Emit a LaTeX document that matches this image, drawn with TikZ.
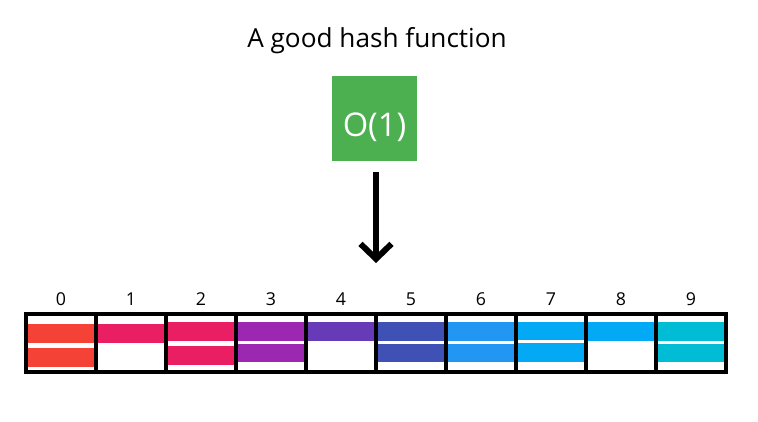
\documentclass[tikz,border=0pt]{standalone}
\usepackage{fontspec}
\setmainfont{Open Sans}
\usepackage{tikz}
\usepackage{xcolor}
\definecolor{hashGreen}{HTML}{4CAF50}
\definecolor{slotRed}{HTML}{F44336}
\definecolor{slotPink}{HTML}{E91E63}
\definecolor{slotPurple}{HTML}{9C27B0}
\definecolor{slotDeep}{HTML}{673AB7}
\definecolor{slotIndigo}{HTML}{3F51B5}
\definecolor{slotBlue}{HTML}{2196F3}
\definecolor{slotLight}{HTML}{03A9F4}
\definecolor{slotCyan}{HTML}{00BCD4}
\usetikzlibrary{arrows.meta}

\begin{document}
\begin{tikzpicture}
  \filldraw[fill=white, draw=none] (0cm,0cm) rectangle (15.16cm,-8.42cm);
  % title and hash box
  \node[anchor=base, font=\fontsize{14.9pt}{18pt}\selectfont] (title) at (7.54cm,-0.95cm) {A good hash function};
  \node[fill=hashGreen, minimum width=1.7cm, minimum height=1.7cm, inner sep=0pt] (hash) at (7.49cm,-2.37cm) {};
  \node[anchor=base, text=white, font=\fontsize{18.6pt}{22pt}\selectfont] (cost) at (7.49cm,-2.72cm) {O(1)};
  \coordinate (tip) at (7.52cm,-5.26cm);
  \draw[line width=3.4pt, -{Straight Barb[length=0.3cm, width=0.62cm, line width=3.4pt]}] (hash.south -| tip) ++(0,-0.22cm) -- (tip);
  % slot 0
  \filldraw[fill=slotRed, draw=none] (0.52cm,-6.48cm) rectangle (1.92cm,-6.86cm);
  \filldraw[fill=slotRed, draw=none] (0.52cm,-6.96cm) rectangle (1.92cm,-7.34cm);
  % slot 1
  \filldraw[fill=slotPink, draw=none] (1.92cm,-6.48cm) rectangle (3.32cm,-6.86cm);
  % slot 2
  \filldraw[fill=slotPink, draw=none] (3.32cm,-6.44cm) rectangle (4.72cm,-6.82cm);
  \filldraw[fill=slotPink, draw=none] (3.32cm,-6.92cm) rectangle (4.72cm,-7.30cm);
  % slot 3
  \filldraw[fill=slotPurple, draw=none] (4.72cm,-6.44cm) rectangle (6.12cm,-6.82cm);
  \filldraw[fill=slotPurple, draw=none] (4.72cm,-6.88cm) rectangle (6.12cm,-7.24cm);
  % slot 4
  \filldraw[fill=slotDeep, draw=none] (6.12cm,-6.44cm) rectangle (7.52cm,-6.82cm);
  % slot 5
  \filldraw[fill=slotIndigo, draw=none] (7.52cm,-6.44cm) rectangle (8.92cm,-6.82cm);
  \filldraw[fill=slotIndigo, draw=none] (7.52cm,-6.88cm) rectangle (8.92cm,-7.24cm);
  % slot 6
  \filldraw[fill=slotBlue, draw=none] (8.92cm,-6.44cm) rectangle (10.32cm,-6.82cm);
  \filldraw[fill=slotBlue, draw=none] (8.92cm,-6.88cm) rectangle (10.32cm,-7.24cm);
  % slot 7
  \filldraw[fill=slotLight, draw=none] (10.32cm,-6.44cm) rectangle (11.72cm,-6.80cm);
  \filldraw[fill=slotLight, draw=none] (10.32cm,-6.86cm) rectangle (11.72cm,-7.24cm);
  % slot 8
  \filldraw[fill=slotLight, draw=none] (11.72cm,-6.44cm) rectangle (13.12cm,-6.82cm);
  % slot 9
  \filldraw[fill=slotCyan, draw=none] (13.12cm,-6.44cm) rectangle (14.52cm,-6.82cm);
  \filldraw[fill=slotCyan, draw=none] (13.12cm,-6.88cm) rectangle (14.52cm,-7.24cm);
  % cell borders
  \node[draw, line width=1.9pt, minimum width=1.4cm, minimum height=1.16cm, inner sep=0pt] (cell0) at (1.22cm,-6.86cm) {};
  \node[draw, line width=1.9pt, minimum width=1.4cm, minimum height=1.16cm, inner sep=0pt] (cell1) at (2.62cm,-6.86cm) {};
  \node[draw, line width=1.9pt, minimum width=1.4cm, minimum height=1.16cm, inner sep=0pt] (cell2) at (4.02cm,-6.86cm) {};
  \node[draw, line width=1.9pt, minimum width=1.4cm, minimum height=1.16cm, inner sep=0pt] (cell3) at (5.42cm,-6.86cm) {};
  \node[draw, line width=1.9pt, minimum width=1.4cm, minimum height=1.16cm, inner sep=0pt] (cell4) at (6.82cm,-6.86cm) {};
  \node[draw, line width=1.9pt, minimum width=1.4cm, minimum height=1.16cm, inner sep=0pt] (cell5) at (8.22cm,-6.86cm) {};
  \node[draw, line width=1.9pt, minimum width=1.4cm, minimum height=1.16cm, inner sep=0pt] (cell6) at (9.62cm,-6.86cm) {};
  \node[draw, line width=1.9pt, minimum width=1.4cm, minimum height=1.16cm, inner sep=0pt] (cell7) at (11.02cm,-6.86cm) {};
  \node[draw, line width=1.9pt, minimum width=1.4cm, minimum height=1.16cm, inner sep=0pt] (cell8) at (12.42cm,-6.86cm) {};
  \node[draw, line width=1.9pt, minimum width=1.4cm, minimum height=1.16cm, inner sep=0pt] (cell9) at (13.82cm,-6.86cm) {};
  % indices
  \node[anchor=base, font=\fontsize{10.1pt}{12pt}\selectfont] (idx0) at (1.22cm,-6.11cm) {0};
  \node[anchor=base, font=\fontsize{10.1pt}{12pt}\selectfont] (idx1) at (2.62cm,-6.11cm) {1};
  \node[anchor=base, font=\fontsize{10.1pt}{12pt}\selectfont] (idx2) at (4.02cm,-6.11cm) {2};
  \node[anchor=base, font=\fontsize{10.1pt}{12pt}\selectfont] (idx3) at (5.42cm,-6.11cm) {3};
  \node[anchor=base, font=\fontsize{10.1pt}{12pt}\selectfont] (idx4) at (6.82cm,-6.11cm) {4};
  \node[anchor=base, font=\fontsize{10.1pt}{12pt}\selectfont] (idx5) at (8.22cm,-6.11cm) {5};
  \node[anchor=base, font=\fontsize{10.1pt}{12pt}\selectfont] (idx6) at (9.62cm,-6.11cm) {6};
  \node[anchor=base, font=\fontsize{10.1pt}{12pt}\selectfont] (idx7) at (11.02cm,-6.11cm) {7};
  \node[anchor=base, font=\fontsize{10.1pt}{12pt}\selectfont] (idx8) at (12.42cm,-6.11cm) {8};
  \node[anchor=base, font=\fontsize{10.1pt}{12pt}\selectfont] (idx9) at (13.82cm,-6.11cm) {9};
\end{tikzpicture}
\end{document}
